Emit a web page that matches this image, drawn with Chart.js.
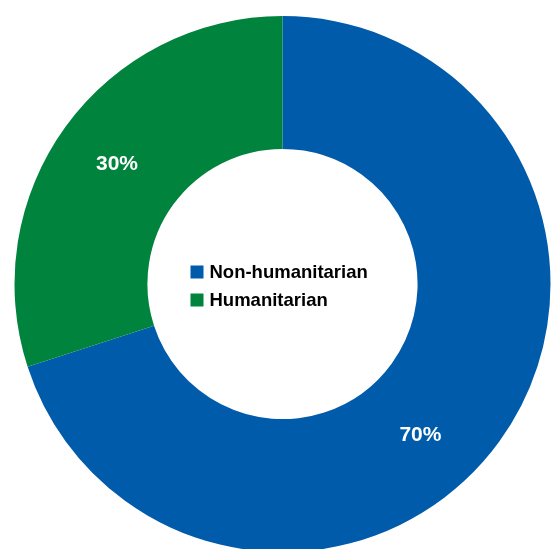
<!DOCTYPE html>
<html>
<head>
<meta charset="utf-8">
<script src="https://cdn.jsdelivr.net/npm/chart.js@4.4.1/dist/chart.umd.min.js"></script>
<style>
  html, body { margin: 0; padding: 0; background: #fff; }
  #wrap { width: 552px; height: 549px; }
</style>
</head>
<body>
<div id="wrap"><canvas id="myChart" width="552" height="549"></canvas></div>
<script>
// chart data
const categories = ["Non-humanitarian", "Humanitarian"];
const shares = [70, 30];
const sliceLabels = ["70%", "30%"];
const colors = ["rgb(0, 91, 170)", "rgb(0, 132, 61)"];

const FONT = "'Liberation Sans', Arial, Helvetica, sans-serif";

// percent labels on the ring
const sliceLabelPlugin = {
  id: "sliceLabels",
  afterDatasetsDraw(chart) {
    const ctx = chart.ctx;
    const meta = chart.getDatasetMeta(0);
    const where = [0.546, 0.5]; // how far along each arc the label sits
    ctx.save();
    ctx.fillStyle = "#fff";
    ctx.font = "bold 21px " + FONT;
    ctx.textAlign = "center";
    ctx.textBaseline = "middle";
    meta.data.forEach((arc, i) => {
      const p = arc.getProps(["x", "y", "startAngle", "endAngle", "innerRadius", "outerRadius"], true);
      const a = p.startAngle + (p.endAngle - p.startAngle) * where[i];
      const r = (p.innerRadius + p.outerRadius) / 2 + 3;
      ctx.fillText(sliceLabels[i], p.x + Math.cos(a) * r, p.y + Math.sin(a) * r);
    });
    ctx.restore();
  },
};

// legend drawn inside the hole
const centerLegendPlugin = {
  id: "centerLegend",
  afterDraw(chart) {
    const ctx = chart.ctx;
    const arc = chart.getDatasetMeta(0).data[0];
    const cx = arc.x, cy = arc.y;
    ctx.save();
    ctx.font = "bold 18.5px " + FONT;
    ctx.textBaseline = "middle";
    chart.data.labels.forEach((lab, i) => {
      const y = cy - 12 + i * 28;
      ctx.fillStyle = chart.data.datasets[0].backgroundColor[i];
      ctx.fillRect(cx - 92, y - 6.5, 13, 13);
      ctx.fillStyle = "#000";
      ctx.fillText(lab, cx - 73, y + 1);
    });
    ctx.restore();
  },
};

new Chart(document.getElementById("myChart"), {
  type: "doughnut",
  data: {
    labels: categories,
    datasets: [
      {
        data: shares,
        backgroundColor: colors,
        borderWidth: 0,
      },
    ],
  },
  options: {
    responsive: false,
    animation: false,
    radius: 268,
    cutout: "50.4%",
    layout: {
      padding: { left: 13, right: 0, top: 19, bottom: 0 },
    },
    plugins: {
      legend: { display: false },
      tooltip: { enabled: false },
    },
  },
  plugins: [sliceLabelPlugin, centerLegendPlugin],
});
</script>
</body>
</html>
